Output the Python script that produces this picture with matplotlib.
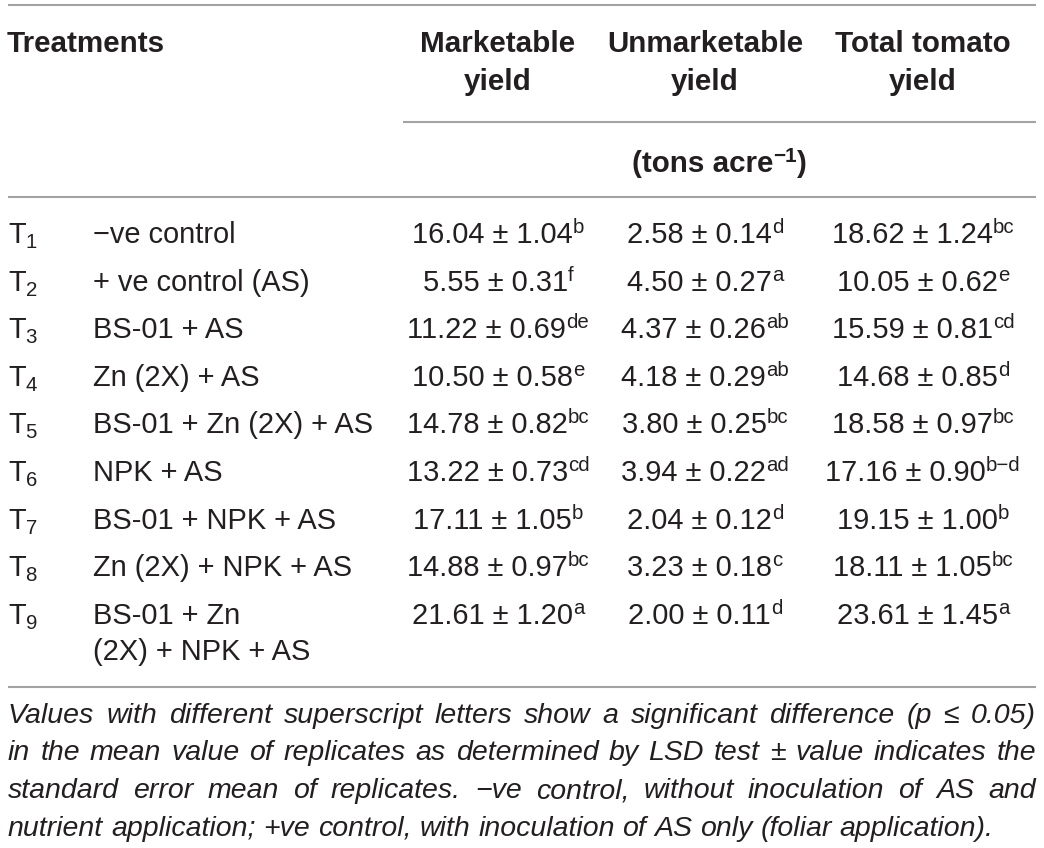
import matplotlib
matplotlib.use("Agg")
import matplotlib.pyplot as plt

plt.rcParams['font.family'] = ['Liberation Sans', 'DejaVu Sans']

# ===== DATOS =====
codigos = ["1", "2", "3", "4", "5", "6", "7", "8", "9"]
tratamientos = ["\u2212ve control", "+ ve control (AS)", "BS-01 + AS", "Zn (2X) + AS",
                "BS-01 + Zn (2X) + AS", "NPK + AS", "BS-01 + NPK + AS",
                "Zn (2X) + NPK + AS", "BS-01 + Zn\n(2X) + NPK + AS"]

comercial = [16.04, 5.55, 11.22, 10.50, 14.78, 13.22, 17.11, 14.88, 21.61]
comercial_ee = [1.04, 0.31, 0.69, 0.58, 0.82, 0.73, 1.05, 0.97, 1.20]
comercial_letra = ["b", "f", "de", "e", "bc", "cd", "b", "bc", "a"]

no_comercial = [2.58, 4.50, 4.37, 4.18, 3.80, 3.94, 2.04, 3.23, 2.00]
no_comercial_ee = [0.14, 0.27, 0.26, 0.29, 0.25, 0.22, 0.12, 0.18, 0.11]
no_comercial_letra = ["d", "a", "ab", "ab", "bc", "ad", "d", "c", "d"]

total = [18.62, 10.05, 15.59, 14.68, 18.58, 17.16, 19.15, 18.11, 23.61]
total_ee = [1.24, 0.62, 0.81, 0.85, 0.97, 0.90, 1.00, 1.05, 1.45]
total_letra = ["bc", "e", "cd", "d", "bc", "b\u2212d", "b", "bc", "a"]

encabezados = [("Marketable", "yield"), ("Unmarketable", "yield"), ("Total tomato", "yield")]
unidades = "(tons acre"

nota = ["Values with different superscript letters show a significant difference (p \u2264 0.05)",
        "in the mean value of replicates as determined by LSD test \u00b1 value indicates the",
        "standard error mean of replicates. \u2212ve control, without inoculation of AS and",
        "nutrient application; +ve control, with inoculation of AS only (foliar application)."]

# ===== FIGURA =====
negro = "#231f20"
gris = "#a3a3a3"
fs = 20.9
fs_cab = 21.3
fs_nota = 20.5

fig = plt.figure(figsize=(10.44, 8.48), dpi=100)
ax = fig.add_axes([0, 0, 1, 1])
ax.set_xlim(0, 1044)
ax.set_ylim(848, 0)
ax.axis("off")
rend = fig.canvas.get_renderer()


def piezas(x, y, partes, ha="center", tam=fs, **kw):
    # partes: (texto, escala, subida en px)
    textos = []
    anchos = []
    for s, esc, dy in partes:
        t = ax.text(0, y - dy, s, fontsize=tam * esc, color=negro, va="baseline", ha="left", **kw)
        textos.append(t)
        anchos.append(t.get_window_extent(rend).width)
    x0 = x - sum(anchos) / 2 if ha == "center" else x
    for t, w in zip(textos, anchos):
        t.set_x(x0)
        x0 += w


def linea(x1, x2, y):
    ax.plot([x1, x2], [y, y], color=gris, lw=1.5, solid_capstyle="butt")


# lineas horizontales
linea(8, 1036, 5)
linea(403, 1036, 122)
linea(8, 1036, 197)
linea(8, 1036, 687)

# encabezado
cx = [498, 705, 923]
ax.text(7, 52, "Treatments", fontsize=fs_cab, fontweight="bold", color=negro, va="baseline")
for c, (l1, l2) in zip(cx, encabezados):
    ax.text(c, 52, l1, fontsize=fs_cab, fontweight="bold", color=negro, va="baseline", ha="center")
    ax.text(c, 90, l2, fontsize=fs_cab, fontweight="bold", color=negro, va="baseline", ha="center")
piezas(719, 172, [(unidades, 1, 0), ("\u22121", 0.7, 10), (")", 1, 0)], tam=fs_cab, fontweight="bold")

# filas
y0 = 243
paso = 47.6
for i in range(len(codigos)):
    y = y0 + paso * i
    piezas(8, y, [("T", 1, 0), (codigos[i], 0.7, -5)], ha="left")
    for k, linea_txt in enumerate(tratamientos[i].split("\n")):
        ax.text(93, y + 36 * k, linea_txt, fontsize=fs, color=negro, va="baseline")
    for c, v, e, l in [(cx[0], comercial[i], comercial_ee[i], comercial_letra[i]),
                       (cx[1], no_comercial[i], no_comercial_ee[i], no_comercial_letra[i]),
                       (cx[2], total[i], total_ee[i], total_letra[i])]:
        piezas(c, y, [(f"{v:.2f} \u00b1 {e:.2f}", 1, 0), (l, 0.7, 10)])

# nota al pie (justificada)
yb = 723
for j, frase in enumerate(nota):
    y = yb + 37.5 * j
    palabras = frase.split(" ")
    textos = [ax.text(0, y, p, fontsize=fs_nota, style="italic", color=negro, va="baseline")
              for p in palabras]
    anchos = [t.get_window_extent(rend).width for t in textos]
    if j < len(nota) - 1:
        hueco = (1036 - 8 - sum(anchos)) / (len(palabras) - 1)
    else:
        hueco = fs_nota * 0.278 * 100 / 72
    x = 8
    for t, w in zip(textos, anchos):
        t.set_x(x)
        x += w + hueco

fig.savefig("out.png", dpi=100)
